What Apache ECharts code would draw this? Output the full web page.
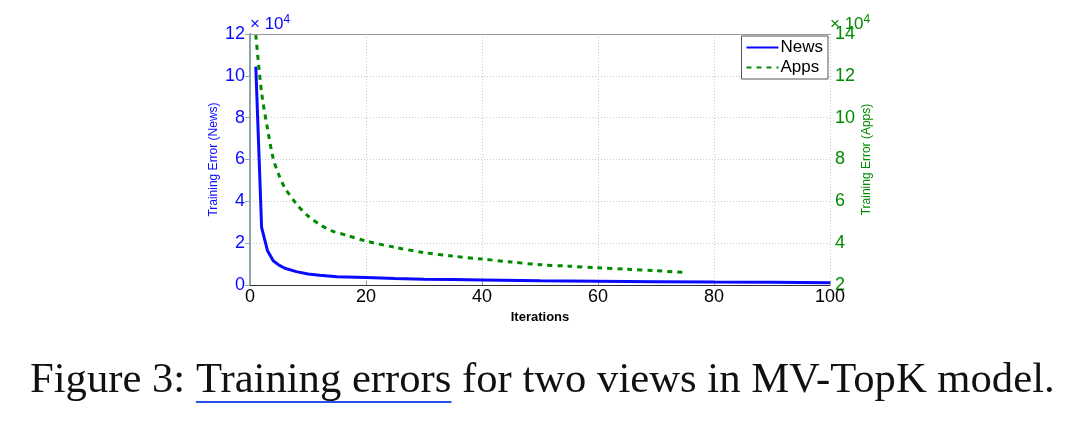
<!DOCTYPE html>
<html>
<head>
<meta charset="utf-8">
<script src="https://cdn.jsdelivr.net/npm/echarts/dist/echarts.min.js"></script>
<style>
html,body{margin:0;padding:0;background:#fff;}
#chart{width:1080px;height:425px;}
</style>
</head>
<body>
<div id="chart"></div>
<script>
// ---- data ----
const newsX = [1, 2, 3, 4, 5, 6, 8, 10, 12, 15, 20, 25, 30, 35, 40, 50, 60, 70, 80, 90, 100];
const newsY = [104400, 27600, 16500, 11600, 9500, 8000, 6400, 5300, 4700, 4000, 3600, 3100, 2800, 2600, 2400, 2000, 1800, 1600, 1400, 1300, 1100];
const appsX = [1, 2, 3, 4, 5, 6, 8, 10, 12, 14, 17, 20, 25, 30, 35, 40, 45, 50, 55, 60, 65, 70, 75];
const appsY = [139500, 112000, 95000, 80500, 72500, 66500, 58800, 53000, 49000, 46000, 43500, 41000, 38000, 35500, 33800, 32400, 31000, 29700, 29000, 28200, 27500, 26800, 26000];
const xTicks = [0, 20, 40, 60, 80, 100];
const leftTicks = [0, 2, 4, 6, 8, 10, 12];     // x 10^4
const rightTicks = [2, 4, 6, 8, 10, 12, 14];   // x 10^4
const seriesNames = ['News', 'Apps'];
const caption = 'Figure 3: Training errors for two views in MV-TopK model.';
const captionPrefix = 'Figure 3: ';
const captionLinked = 'Training errors';

const BLUE = '#0a0aff';
const GREEN = '#008a00';
const SANS = '"Liberation Sans", Arial, Helvetica, sans-serif';
const SERIF = '"Liberation Serif", "Times New Roman", serif';

// caption sizing
const ctx = document.createElement('canvas').getContext('2d');
ctx.font = '100px ' + SERIF;
const fullW = ctx.measureText(caption).width;
const capSize = 100 * 1025 / fullW;
ctx.font = capSize + 'px ' + SERIF;
const preW = ctx.measureText(captionPrefix).width;
const linkW = ctx.measureText(captionLinked).width;
const capX = 30;

const chart = echarts.init(document.getElementById('chart'), null, {renderer: 'canvas'});
const fmt = v => String(v / 10000);

chart.setOption({
  backgroundColor: '#fff',
  animation: false,
  grid: {left: 250, right: 250, top: 34, bottom: 140, containLabel: false},
  legend: {
    data: seriesNames,
    orient: 'vertical',
    right: 252,
    top: 36,
    itemWidth: 32,
    itemHeight: 10,
    itemGap: 3,
    padding: [3, 5, 3, 4],
    backgroundColor: '#fff',
    borderColor: '#555',
    borderWidth: 1,
    borderRadius: 0,
    itemStyle: {opacity: 0},
    textStyle: {fontFamily: SANS, fontSize: 17, color: '#000', padding: [0, 0, 0, -3]}
  },
  xAxis: [{
    type: 'value', min: 0, max: 100, interval: 20,
    name: 'Iterations', nameLocation: 'middle', nameGap: 18,
    nameTextStyle: {fontFamily: SANS, fontSize: 13, fontWeight: 'bold', color: '#000'},
    axisLine: {lineStyle: {color: '#333', width: 1}},
    axisTick: {inside: true, length: 4, lineStyle: {color: '#999'}},
    axisLabel: {fontFamily: SANS, fontSize: 18, color: '#000', margin: 3},
    splitLine: {show: true, lineStyle: {color: '#c8c8d4', type: [1, 2], width: 1}}
  }, {
    type: 'value', min: 0, max: 100, position: 'top',
    axisLine: {show: true, lineStyle: {color: '#999', width: 1}},
    axisTick: {show: false}, axisLabel: {show: false}, splitLine: {show: false}
  }],
  yAxis: [{
    type: 'value', min: 0, max: 120000, interval: 20000, position: 'left',
    name: 'Training Error (News)', nameLocation: 'middle', nameGap: 30, nameMoveOverlap: false,
    nameTextStyle: {fontFamily: SANS, fontSize: 12, color: BLUE},
    axisLine: {show: true, lineStyle: {color: BLUE, width: 1}},
    axisTick: {show: false},
    axisLabel: {fontFamily: SANS, fontSize: 18, color: BLUE, margin: 5, formatter: fmt},
    splitLine: {show: true, lineStyle: {color: '#c8c8e8', type: [1, 2], width: 1}}
  }, {
    type: 'value', min: 20000, max: 140000, interval: 20000, position: 'right',
    name: 'Training Error (Apps)', nameLocation: 'middle', nameGap: 31, nameMoveOverlap: false,
    nameTextStyle: {fontFamily: SANS, fontSize: 12, color: GREEN},
    axisLine: {show: true, lineStyle: {color: '#8aa8ac', width: 2}},
    axisTick: {show: true, inside: true, length: 5, lineStyle: {color: '#8aa8ac'}},
    axisLabel: {fontFamily: SANS, fontSize: 18, color: GREEN, margin: 5, formatter: fmt},
    splitLine: {show: false}
  }],
  series: [{
    name: seriesNames[0], type: 'line', xAxisIndex: 0, yAxisIndex: 0,
    data: newsX.map((x, i) => [x, newsY[i]]),
    symbol: 'none', smooth: false,
    lineStyle: {color: BLUE, width: 3},
    itemStyle: {color: BLUE}, z: 3
  }, {
    name: seriesNames[1], type: 'line', xAxisIndex: 0, yAxisIndex: 1,
    data: appsX.map((x, i) => [x, appsY[i]]),
    symbol: 'none', smooth: 0.3,
    lineStyle: {color: GREEN, width: 3, type: [5, 5]},
    itemStyle: {color: GREEN}, z: 4
  }],
  graphic: [
    {type: 'text', left: 250, top: 14, style: {
      rich: {b: {fontFamily: SANS, fontSize: 17, fill: BLUE}, s: {fontFamily: SANS, fontSize: 12, fill: BLUE, verticalAlign: 'top', padding: [0,0,8,0]}},
      text: '{b|× 10}{s|4}'}},
    {type: 'text', left: 830, top: 14, style: {
      rich: {b: {fontFamily: SANS, fontSize: 17, fill: GREEN}, s: {fontFamily: SANS, fontSize: 12, fill: GREEN, verticalAlign: 'top', padding: [0,0,8,0]}},
      text: '{b|× 10}{s|4}'}},
    {type: 'text', x: capX, y: 381, style: {
      text: caption, font: capSize.toFixed(2) + 'px ' + SERIF, fill: '#111', verticalAlign: 'middle', textAlign: 'left'}},
    {type: 'line', shape: {x1: capX + preW, y1: 402, x2: capX + preW + linkW, y2: 402},
      style: {stroke: '#2850e8', lineWidth: 2}}
  ]
});
</script>
</body>
</html>
